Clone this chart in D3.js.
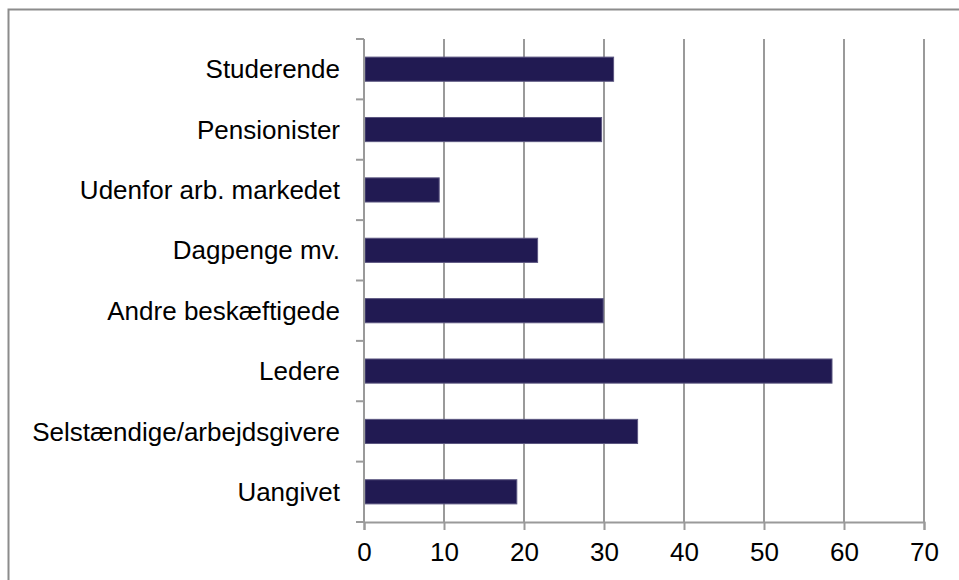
<!DOCTYPE html>
<html>
<head>
<meta charset="utf-8">
<script src="https://cdn.jsdelivr.net/npm/d3@7"></script>
<style>
  body { margin: 0; background: #fff; }
  svg { display: block; font-family: "Liberation Sans", Arial, sans-serif; }
</style>
</head>
<body>
<svg id="chart" width="959" height="580"></svg>
<script>
// categories top to bottom
var categories = ["Studerende", "Pensionister", "Udenfor arb. markedet", "Dagpenge mv.",
  "Andre beskæftigede", "Ledere", "Selstændige/arbejdsgivere", "Uangivet"];
var values = [31.2, 29.7, 9.4, 21.7, 29.9, 58.5, 34.2, 19.1];
var xTicks = [0, 10, 20, 30, 40, 50, 60, 70];

var margin = { top: 39, right: 35, bottom: 58, left: 364 };
var W = 959, H = 580;
var width = W - margin.left - margin.right;
var height = H - margin.top - margin.bottom;

var svg = d3.select("#chart");

// outer frame (only top + left visible in the original)
svg.append("path")
  .attr("d", "M8.5,580 V9.5 H959")
  .attr("fill", "none")
  .attr("stroke", "#8c8c8c")
  .attr("stroke-width", 2);

var g = svg.append("g")
  .attr("transform", "translate(" + margin.left + "," + margin.top + ")");

var x = d3.scaleLinear().domain([0, 70]).range([0, width]);
var y = d3.scaleBand().domain(categories).range([0, height]).paddingInner(0.6).paddingOuter(0.3);
var yb = d3.scaleBand().domain(categories).range([0, height]);

// vertical gridlines
g.append("g").selectAll("line")
  .data(xTicks.slice(1))
  .enter().append("line")
  .attr("x1", function (d) { return x(d); })
  .attr("x2", function (d) { return x(d); })
  .attr("y1", 0)
  .attr("y2", height)
  .attr("stroke", "#9a9a9a")
  .attr("stroke-width", 2);

// bars
g.append("g").selectAll("rect")
  .data(values)
  .enter().append("rect")
  .attr("x", x(0) + 1)
  .attr("y", function (d, i) { return y(categories[i]); })
  .attr("width", function (d) { return x(d) - x(0) - 1; })
  .attr("height", y.bandwidth())
  .attr("fill", "#211a52")
  .attr("stroke", "#5b5680")
  .attr("stroke-width", 1);

// x axis
var xAxis = g.append("g")
  .attr("transform", "translate(0," + height + ")")
  .call(d3.axisBottom(x).tickValues(xTicks).tickSize(8).tickPadding(13).tickFormat(d3.format("d")));
xAxis.select(".domain").attr("stroke", "#9a9a9a").attr("stroke-width", 2);
xAxis.selectAll(".tick line").attr("stroke", "#9a9a9a").attr("stroke-width", 2);
xAxis.selectAll("text").attr("font-size", 26).attr("fill", "#000")
  .attr("font-family", "'Liberation Sans', Arial, sans-serif");

// y axis: ticks at band boundaries, labels at band centers
var yAxis = g.append("g");
yAxis.append("line")
  .attr("x1", 0).attr("x2", 0).attr("y1", 0).attr("y2", height)
  .attr("stroke", "#9a9a9a").attr("stroke-width", 2);
yAxis.selectAll(".btick")
  .data(categories.concat(["_end"]))
  .enter().append("line")
  .attr("class", "btick")
  .attr("x1", -8).attr("x2", 0)
  .attr("y1", function (d, i) { return i * yb.step(); })
  .attr("y2", function (d, i) { return i * yb.step(); })
  .attr("stroke", "#9a9a9a").attr("stroke-width", 2);
yAxis.selectAll("text")
  .data(categories)
  .enter().append("text")
  .attr("x", -24)
  .attr("y", function (d) { return yb(d) + yb.bandwidth() / 2; })
  .attr("dy", "0.35em")
  .attr("text-anchor", "end")
  .attr("font-size", 26)
  .attr("fill", "#000")
  .text(function (d) { return d; });
</script>
</body>
</html>
